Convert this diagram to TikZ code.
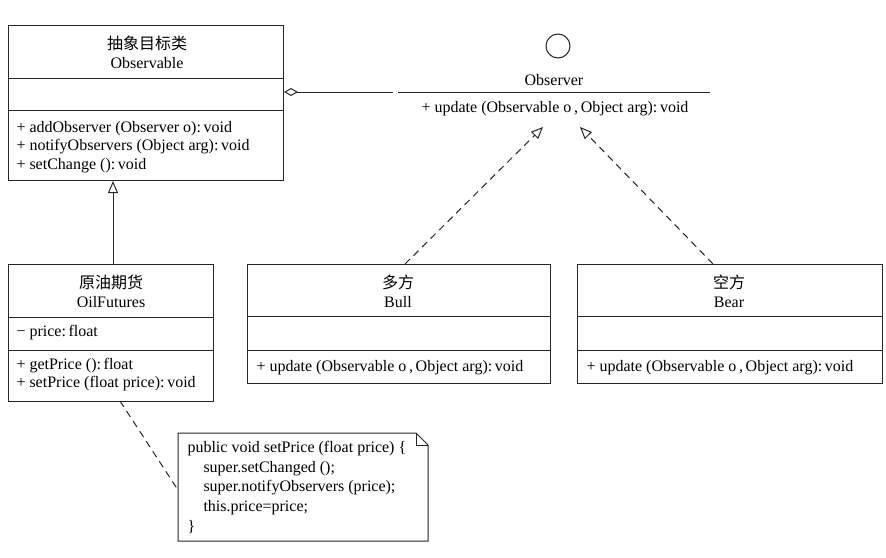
\documentclass[tikz,border=0pt]{standalone}
\usepackage{fontspec}
\setmainfont{Liberation Serif}
\newfontfamily\cjk{Noto Sans CJK SC}
\usetikzlibrary{arrows.meta}
\begin{document}
\begin{tikzpicture}[x=1pt,y=-1pt,line width=1pt,
  font=\fontsize{16}{19}\selectfont,
  cls/.style={draw=black!85,anchor=north west,inner sep=0pt},
  txt/.style={inner sep=0pt,anchor=base},
  ltxt/.style={inner sep=0pt,anchor=base west},
  dashln/.style={dash pattern=on 7pt off 5pt},
  tri/.style={-{Triangle[open,length=12pt,width=10pt,fill=white]}},
  dia/.style={{Diamond[open,length=14pt,width=8pt,fill=white]}-}]
\useasboundingbox[fill=white] (0,0) rectangle (886,557);
% Observable
\node[cls,minimum width=275pt,minimum height=155pt] (obs) at (8,25) {};
\draw[black!85] (8,78) -- (283,78) (8,110) -- (283,110);
\node[txt] (obsc) at (147,49) {\cjk 抽象目标类};
\node[txt] (obsn) at (147,68) {Observable};
\node[ltxt] (m1) at (16,132) {+ addObserver (Observer o):\,void};
\node[ltxt] (m2) at (16,150) {+ notifyObservers (Object arg):\,void};
\node[ltxt] (m3) at (16,169) {+ setChange ():\,void};
% OilFutures
\node[cls,minimum width=205pt,minimum height=137pt] (oil) at (8,264) {};
\draw[black!85] (8,317) -- (213,317) (8,350) -- (213,350);
\node[txt] (oilc) at (111,288) {\cjk 原油期货};
\node[txt] (oiln) at (111,307) {OilFutures};
\node[ltxt] (oa) at (16,336) {\textminus\ price:\,float};
\node[ltxt] (o1) at (16,369) {+ getPrice ():\,float};
\node[ltxt] (o2) at (16,387) {+ setPrice (float price):\,void};
% Bull
\node[cls,minimum width=303pt,minimum height=119pt] (bull) at (247,264) {};
\draw[black!85] (247,316) -- (550,316) (247,350) -- (550,350);
\node[txt] (bullc) at (398,288) {\cjk 多方};
\node[txt] (bulln) at (398,307) {Bull};
\node[ltxt] (bu) at (256,371) {+ update (Observable o\,,\,Object arg):\,void};
% Bear
\node[cls,minimum width=305pt,minimum height=119pt] (bear) at (577,264) {};
\draw[black!85] (577,316) -- (882,316) (577,350) -- (882,350);
\node[txt] (bearc) at (729,288) {\cjk 空方};
\node[txt] (bearn) at (729,307) {Bear};
\node[ltxt] (be) at (586,371) {+ update (Observable o\,,\,Object arg):\,void};
% Observer interface
\node[draw=black!85,circle,minimum size=24pt,inner sep=0pt] (lol) at (558,46) {};
\node[txt] (obsvn) at (554,85) {Observer};
\coordinate (ol) at (398,92);
\coordinate (or) at (710,92);
\draw[black!85] (ol) -- (or);
\node[txt] (upd) at (555,112) {+ update (Observable o\,,\,Object arg):\,void};
\coordinate (ua) at (543,127);
\coordinate (ub) at (580,127);
% connectors
\coordinate (aggend) at (393,92);
\draw[black!85,dia] (obs.east |- aggend) -- (aggend);
\draw[black!85,tri] (oil.north -| 113,0) -- (obs.south -| 113,0);
\draw[black!85,dashln,tri] (bull.north -| 405,0) -- (ua);
\draw[black!85,dashln,tri] (bear.north -| 713,0) -- (ub);
% note
\node[inner sep=0pt,anchor=north west,minimum width=249pt,minimum height=107pt] (note) at (178,433) {};
\draw[black!85] (note.north west) -- ([xshift=-12pt]note.north east) -- ([yshift=-12pt]note.north east) -- (note.south east) -- (note.south west) -- cycle;
\draw[black!85] ([xshift=-12pt]note.north east) -- ([xshift=-12pt,yshift=-12pt]note.north east) -- ([yshift=-12pt]note.north east);
\node[ltxt] (n1) at (187,452) {public void setPrice (float price) \{};
\node[ltxt] (n2) at (203,472) {super.setChanged ();};
\node[ltxt] (n3) at (203,491) {super.notifyObservers (price);};
\node[ltxt] (n4) at (203,511) {this.price=price;};
\node[ltxt] (n5) at (187,531) {\}};
\coordinate (nt) at (120,401);
\draw[black!85,dashln] (nt) -- (note.west |- 0,490);
\end{tikzpicture}
\end{document}
